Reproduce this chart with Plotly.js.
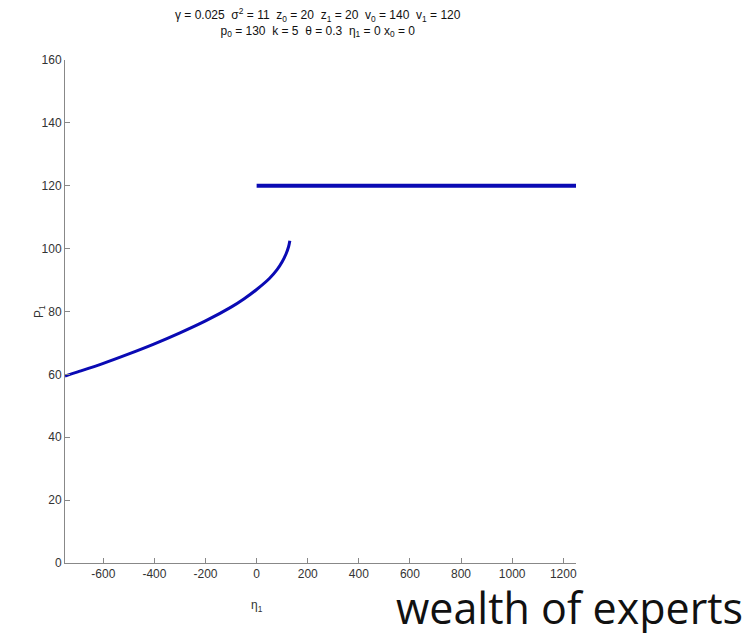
<!DOCTYPE html>
<html>
<head>
<meta charset="utf-8">
<script src="https://cdn.plot.ly/plotly-3.0.1.min.js"></script>
<style>html,body{margin:0;padding:0;background:#fff;}#chart{width:745px;height:633px;}</style>
</head>
<body>
<div id="chart"></div>
<script>
// Lower branch of P1 as a function of eta1
const curveEta = [-750, -700, -600, -500, -400, -300, -200, -100, -50, 0, 50, 80, 100, 115, 125, 130];
const curveP   = [59.5, 60.8, 63.5, 66.5, 69.7, 73.2, 77.0, 81.4, 84.0, 87.0, 90.5, 93.3, 95.8, 98.3, 100.6, 102.5];
// Upper flat branch
const flatEta = [0, 1250];
const flatP   = [120, 120];
const xTicks = [-600, -400, -200, 0, 200, 400, 600, 800, 1000, 1200];
const yTicks = [0, 20, 40, 60, 80, 100, 120, 140, 160];

const blue = '#0a0ab4';
const data = [
  {x: curveEta, y: curveP, mode: 'lines', line: {color: blue, width: 3, shape: 'spline'}, hoverinfo: 'none'},
  {x: flatEta, y: flatP, mode: 'lines', line: {color: blue, width: 4}, hoverinfo: 'none'}
];
const axisFont = {family: 'Liberation Sans, Arial, sans-serif', size: 12, color: '#333'};
const titleText = 'γ = 0.025  σ<sup>2</sup> = 11  z<sub>0</sub> = 20  z<sub>1</sub> = 20  v<sub>0</sub> = 140  v<sub>1</sub> = 120<br>p<sub>0</sub> = 130  k = 5  θ = 0.3  η<sub>1</sub> = 0 x<sub>0</sub> = 0';
const layout = {
  width: 745, height: 633,
  margin: {l: 65, r: 169, t: 60, b: 70},
  paper_bgcolor: '#fff', plot_bgcolor: '#fff',
  showlegend: false,
  title: {text: ''},
  xaxis: {
    range: [-750, 1250], tickvals: xTicks, ticktext: xTicks.map(String),
    ticks: 'inside', ticklen: 5, tickcolor: '#888', showline: true, linecolor: '#888', linewidth: 1,
    showgrid: false, zeroline: false, tickfont: axisFont, mirror: false, fixedrange: true
  },
  yaxis: {
    range: [0, 160], tickvals: yTicks, ticktext: yTicks.map(String),
    ticks: 'inside', ticklen: 5, tickcolor: '#888', showline: true, linecolor: '#888', linewidth: 1,
    showgrid: false, zeroline: false, tickfont: axisFont, mirror: false, fixedrange: true
  },
  annotations: [
    {text: titleText, xref: 'paper', yref: 'paper', x: 0.495, y: 1.111, xanchor: 'center', yanchor: 'top', showarrow: false,
     font: {family: 'Liberation Sans, Arial, sans-serif', size: 12, color: '#111'}},
    {text: 'η<sub>1</sub>', xref: 'paper', yref: 'paper', x: 0.375, y: -0.065, xanchor: 'center', yanchor: 'top', showarrow: false,
     font: {family: 'Liberation Sans, Arial, sans-serif', size: 12, color: '#333'}},
    {text: 'P<sub>1</sub>', xref: 'paper', yref: 'paper', x: -0.05, y: 0.5, xanchor: 'center', yanchor: 'middle', textangle: -90, showarrow: false,
     font: {family: 'Liberation Sans, Arial, sans-serif', size: 12, color: '#333'}},
    {text: 'wealth of experts', xref: 'paper', yref: 'paper', x: 1.33, y: -0.026, xanchor: 'right', yanchor: 'top', showarrow: false,
     font: {family: 'Open Sans, sans-serif', size: 43, color: '#111'}}
  ]
};
Plotly.newPlot('chart', data, layout, {displayModeBar: false, staticPlot: true});
</script>
</body>
</html>
